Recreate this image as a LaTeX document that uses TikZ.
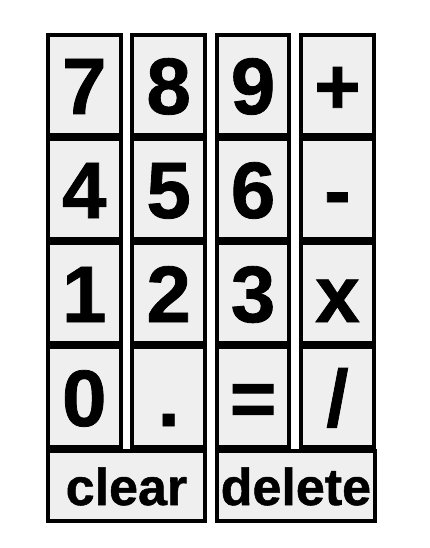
\documentclass[tikz,border=0pt]{standalone}
\usepackage{fontspec}
\setmainfont{Liberation Sans}
\newfontfamily\keyfont{Liberation Sans Bold}[FakeBold=1]
\definecolor{keyfill}{RGB}{239,239,239}

\begin{document}
\begin{tikzpicture}[x=1pt, y=-1pt,
	key/.style={draw, line width=4pt, fill=keyfill, inner sep=0pt,
		minimum width=72.5pt, minimum height=100pt,
		text height=58pt, text depth=0pt,
		font=\keyfont\fontsize{80}{80}\selectfont},
	widekey/.style={key, minimum height=70pt, text height=38pt,
		font=\keyfont\fontsize{52}{52}\selectfont}]

	\useasboundingbox (0,0) rectangle (430,548);

	\def\xa{84.25}
	\def\xb{168.65}
	\def\xc{253.05}
	\def\xd{337.45}

	\def\ya{85}
	\def\yb{189}
	\def\yc{293}
	\def\yd{397}

	% digits and operators
	\node[key] (k7) at (\xa, \ya) {7};
	\node[key] (k8) at (\xb, \ya) {8};
	\node[key] (k9) at (\xc, \ya) {9};
	\node[key] (kplus) at (\xd, \ya) {+};

	\node[key] (k4) at (\xa, \yb) {4};
	\node[key] (k5) at (\xb, \yb) {5};
	\node[key] (k6) at (\xc, \yb) {6};
	\node[key] (kminus) at (\xd, \yb) {-};

	\node[key] (k1) at (\xa, \yc) {1};
	\node[key] (k2) at (\xb, \yc) {2};
	\node[key] (k3) at (\xc, \yc) {3};
	\node[key] (ktimes) at (\xd, \yc) {x};

	\node[key] (k0) at (\xa, \yd) {0};
	\node[key] (kdot) at (\xb, \yd) {.};
	\node[key] (keq) at (\xc, \yd) {=};
	\node[key] (kdiv) at (\xd, \yd) {/};

	% bottom row
	\node[widekey, minimum width=157pt] (kclear) at (126.45, 486) {clear};
	\node[widekey, minimum width=158pt] (kdelete) at (295.9, 486) {delete};

\end{tikzpicture}
\end{document}
